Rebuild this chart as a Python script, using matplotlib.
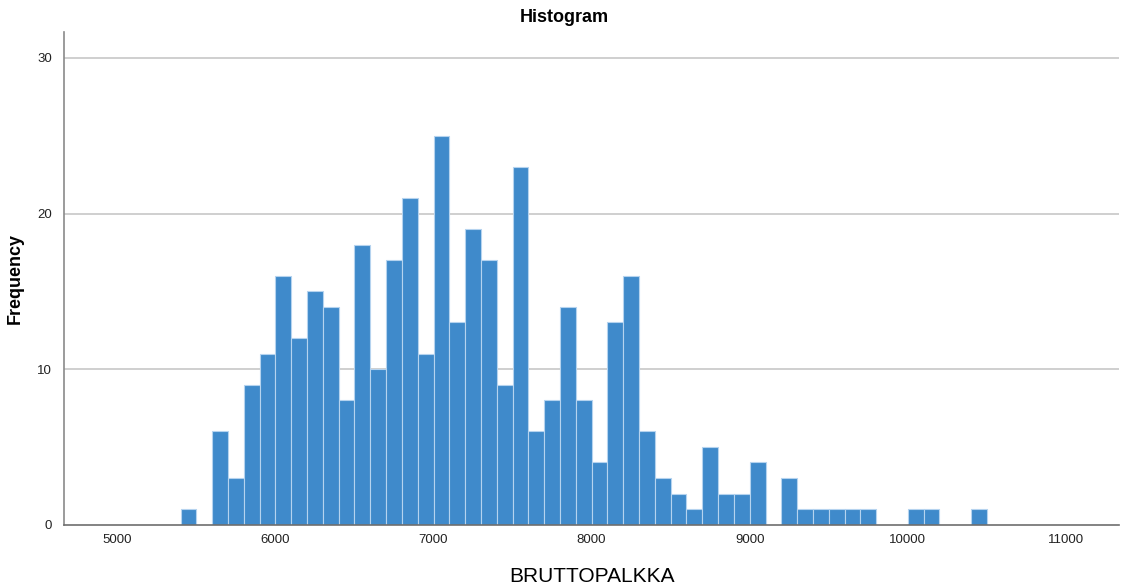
import numpy as np
import matplotlib
matplotlib.use("Agg")
from matplotlib import pyplot as plt

plt.rcParams["font.family"] = ["Liberation Sans", "DejaVu Sans"]

# BRUTTOPALKKA histogram, bins of 100 starting at 5400
bin_start = 5400
bin_width = 100
counts = [1, 0, 6, 3, 9, 11, 16, 12, 15, 14,
          8, 18, 10, 17, 21, 11, 25, 13, 19, 17,
          9, 23, 6, 8, 14, 8, 4, 13, 16, 6,
          3, 2, 1, 5, 2, 2, 4, 0, 3, 1,
          1, 1, 1, 1, 0, 0, 1, 1, 0, 0,
          1]
x_ticks = [5000, 6000, 7000, 8000, 9000, 10000, 11000]
y_ticks = [0, 10, 20, 30]

counts = np.array(counts)
lefts = bin_start + bin_width * np.arange(len(counts))
keep = counts > 0

fig = plt.figure(figsize=(11.25, 5.87), dpi=100)
ax = fig.add_axes([0.0572, 0.1061, 0.9375, 0.8389])

ax.bar(lefts[keep], counts[keep], width=bin_width, align="edge",
       color="#3f8acb", edgecolor="#b5d3ef", linewidth=0.8, zorder=2)

ax.set_xlim(4665, 11336)
ax.set_ylim(0, 31.65)
ax.set_xticks(x_ticks)
ax.set_yticks(y_ticks)
ax.tick_params(axis="both", length=0, labelsize=9.5, colors="#222222")
ax.tick_params(axis="x", pad=7)
ax.tick_params(axis="y", pad=9)

for y in y_ticks[1:]:
    ax.axhline(y, color="#cfcfcf", linewidth=1.4, zorder=1)

for side in ["top", "right"]:
    ax.spines[side].set_visible(False)
ax.spines["left"].set_color("#8a8a8a")
ax.spines["bottom"].set_color("#6e6e6e")
ax.spines["left"].set_linewidth(1.2)
ax.spines["bottom"].set_linewidth(1.2)
ax.spines["bottom"].set_zorder(3)

fig.text(0.5013, 0.97, "Histogram", ha="center", va="center",
         fontsize=13, fontweight="bold")
fig.text(0.526, 0.018, "BRUTTOPALKKA", ha="center", va="center", fontsize=15)
fig.text(0.0135, 0.525, "Frequency", ha="center", va="center",
         rotation=90, fontsize=13, fontweight="bold")

plt.savefig("out.png", dpi=100)
